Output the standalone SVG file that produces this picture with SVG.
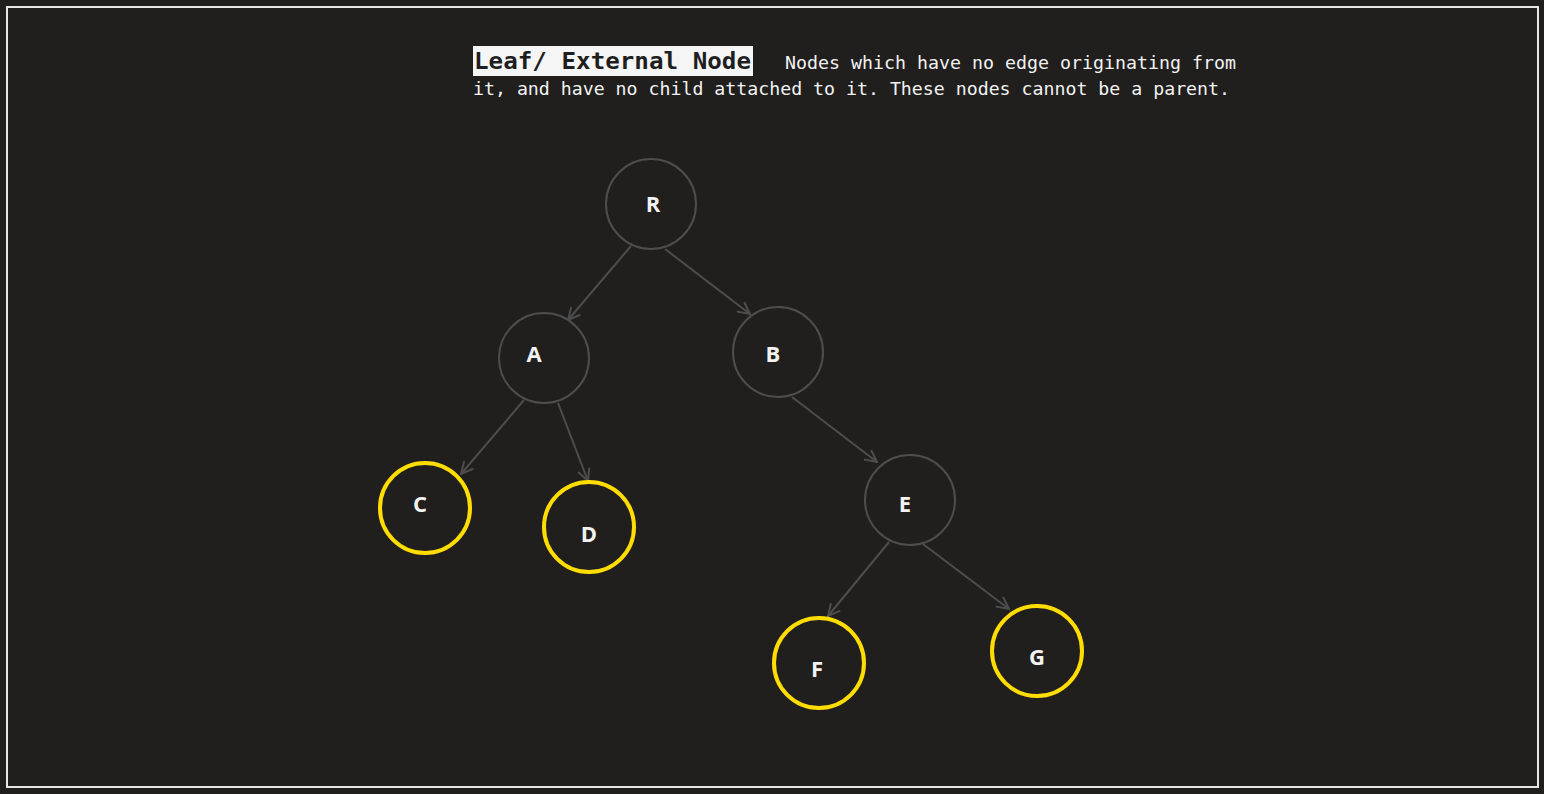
<svg xmlns="http://www.w3.org/2000/svg" width="1544" height="794" viewBox="0 0 1544 794">
<style>
.node{fill:#201f1e;stroke:#4d4d4d;stroke-width:2}
.leaf{fill:#201f1e;stroke:#ffdd00;stroke-width:4}
.lbl{font-family:"Open Sans","Noto Sans",sans-serif;font-weight:bold;font-size:22px;fill:#f2f2f2;text-anchor:middle}
.edge{stroke:#4d4d4d;stroke-width:2;fill:none;marker-end:url(#arr)}
.mono{font-family:"DejaVu Sans Mono","Liberation Mono",monospace;fill:#f2f2f2}
</style>
<defs>
<marker id="arr" viewBox="0 0 14 14" refX="13" refY="7" markerWidth="14" markerHeight="14" markerUnits="userSpaceOnUse" orient="auto">
<path d="M1,1 L13,7 L1,13" fill="none" stroke="#4d4d4d" stroke-width="2"/>
</marker>
</defs>
<rect x="0" y="0" width="1544" height="794" fill="#201f1e"/>
<rect x="7" y="7" width="1531" height="780" fill="none" stroke="#e6e6e6" stroke-width="2"/>
<g id="caption">
<rect x="473" y="46" width="280" height="30" fill="#f5f5f5"/>
<text class="mono" x="474" y="69" font-size="23" font-weight="bold" style="fill:#1e1e1e" textLength="277" lengthAdjust="spacingAndGlyphs">Leaf/ External Node</text>
<text class="mono" x="785" y="69" font-size="18" textLength="451" lengthAdjust="spacingAndGlyphs">Nodes which have no edge originating from</text>
<text class="mono" x="473" y="95" font-size="18" textLength="757" lengthAdjust="spacingAndGlyphs">it, and have no child attached to it. These nodes cannot be a parent.</text>
</g>
<g id="connectors">
<line class="edge" x1="631" y1="246" x2="568" y2="320"/>
<line class="edge" x1="665" y1="249" x2="750" y2="314"/>
<line class="edge" x1="524" y1="400" x2="461" y2="474"/>
<line class="edge" x1="558" y1="403" x2="588" y2="481"/>
<line class="edge" x1="792" y1="397" x2="877" y2="462"/>
<line class="edge" x1="889" y1="542" x2="828" y2="616"/>
<line class="edge" x1="923" y1="544" x2="1009" y2="609"/>
</g>
<g id="node-R"><circle class="node" cx="651" cy="204" r="45"/><text class="lbl" x="653" y="212">R</text></g>
<g id="node-A"><circle class="node" cx="544" cy="358" r="45"/><text class="lbl" x="534" y="362">A</text></g>
<g id="node-B"><circle class="node" cx="778" cy="352" r="45"/><text class="lbl" x="773" y="362">B</text></g>
<g id="node-C"><circle class="leaf" cx="425" cy="508" r="45"/><text class="lbl" x="420" y="512">C</text></g>
<g id="node-D"><circle class="leaf" cx="589" cy="527" r="45"/><text class="lbl" x="589" y="542">D</text></g>
<g id="node-E"><circle class="node" cx="910" cy="500" r="45"/><text class="lbl" x="905" y="512">E</text></g>
<g id="node-F"><circle class="leaf" cx="819" cy="663" r="45"/><text class="lbl" x="817" y="677">F</text></g>
<g id="node-G"><circle class="leaf" cx="1037" cy="651" r="45"/><text class="lbl" x="1037" y="665">G</text></g>
</svg>
